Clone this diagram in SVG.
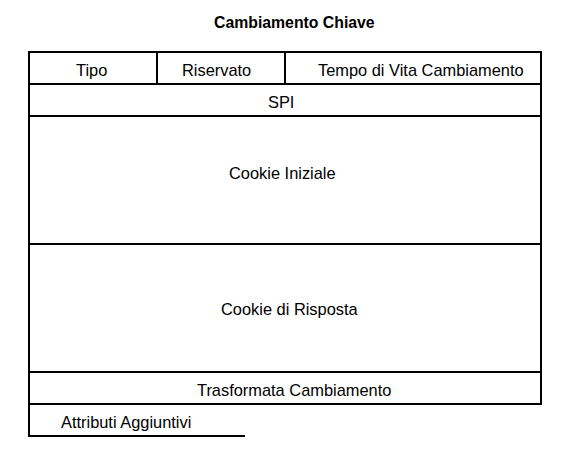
<svg xmlns="http://www.w3.org/2000/svg" width="567" height="462" viewBox="0 0 567 462">
<style>
.t{font-family:"Liberation Sans",Arial,sans-serif;font-size:16.4px;fill:#000}
.b{font-weight:bold;font-size:15.8px}
.ln{stroke:#000;stroke-width:2;fill:none}
</style>
<rect width="567" height="462" fill="#fff"/>
<text class="t b" x="214" y="28">Cambiamento Chiave</text>
<g id="connectors">
<path class="ln" d="M29,52H541V404H29Z M29,84H541 M29,116H541 M29,244H541 M29,372H541 M157,52V84 M285,52V84 M29,404V436H245"/>
</g>
<g id="tipo"><text class="t" x="76" y="76">Tipo</text></g>
<g id="riservato"><text class="t" x="182" y="76">Riservato</text></g>
<g id="tempo"><text class="t" x="318" y="76">Tempo di Vita Cambiamento</text></g>
<g id="spi"><text class="t" x="268" y="108">SPI</text></g>
<g id="cookie-iniziale"><text class="t" x="229" y="179">Cookie Iniziale</text></g>
<g id="cookie-risposta"><text class="t" x="221" y="315">Cookie di Risposta</text></g>
<g id="trasformata"><text class="t" x="197" y="396">Trasformata Cambiamento</text></g>
<g id="attributi"><text class="t" x="61" y="428">Attributi Aggiuntivi</text></g>
</svg>
